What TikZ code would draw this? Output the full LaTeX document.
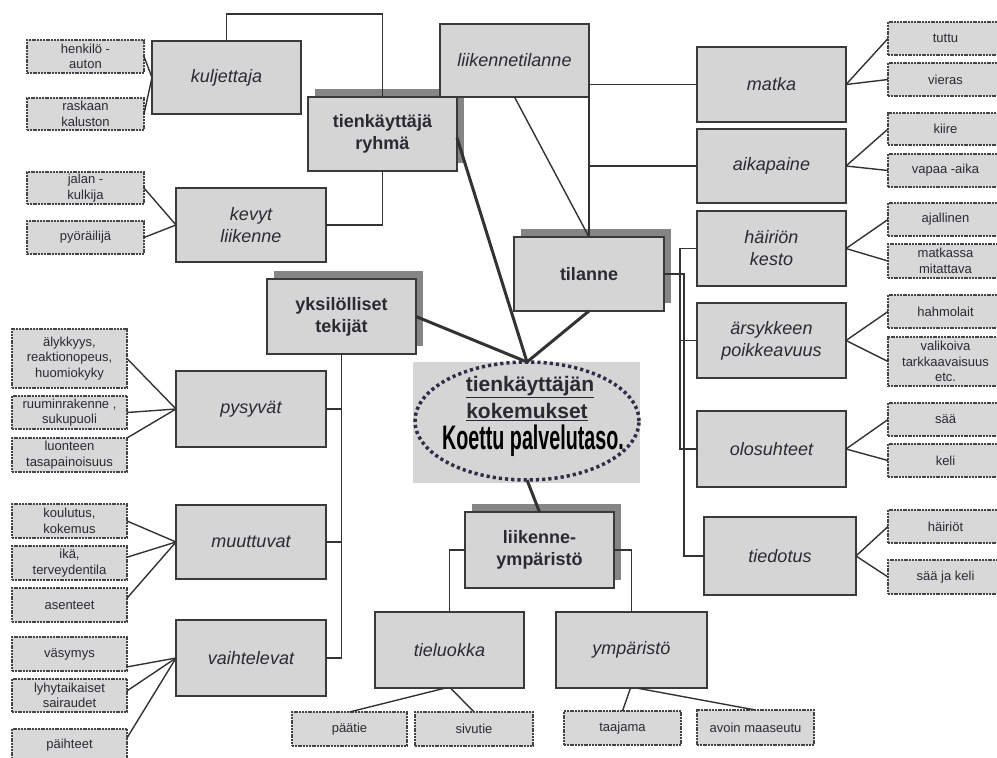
\documentclass[tikz,border=0pt]{standalone}
\usepackage{fontspec}
\setmainfont{Liberation Sans}
\usepackage{graphicx}
\usetikzlibrary{shapes.geometric,calc}
\definecolor{fillc}{HTML}{D5D5D5}
\definecolor{leaffill}{HTML}{D8D8D8}
\definecolor{bordc}{HTML}{3A3A3A}
\definecolor{leafb}{HTML}{454545}
\definecolor{shadc}{HTML}{858585}
\definecolor{textc}{HTML}{2A2A33}
\definecolor{linec}{HTML}{333333}
\definecolor{ellc}{HTML}{2E2E48}
\tikzset{
  mainbox/.style={draw=bordc, line width=1.6pt, fill=fillc, outer sep=0pt, inner sep=1pt, align=center, text=textc, font=\fontsize{18}{22}\selectfont\itshape},
  boldbox/.style={mainbox, font=\fontsize{18}{22}\selectfont\bfseries},
  leafbox/.style={draw=leafb, line width=1.4pt, dash pattern=on 2pt off 0.8pt, fill=leaffill, outer sep=0pt, inner sep=0pt, align=center, text=textc, font=\fontsize{13}{15.5}\selectfont},
  conn/.style={draw=linec, line width=1.4pt},
  thickconn/.style={draw=linec, line width=3pt},
}
\newcommand\MkBox[7]{\node[#1, minimum width={(#5)-(#3)}, minimum height={(#6)-(#4)}] (#2) at ({((#3)+(#5))/2},{((#4)+(#6))/2}) {#7};}
\newcommand\Shad[4]{\fill[shadc] ({#1+7},{#2-8}) rectangle ({#3+7},{#4-8});}
\begin{document}
\begin{tikzpicture}[x=1pt,y=-1pt]
\useasboundingbox (0,0) rectangle (997,758);
\fill[white] (0,0) rectangle (997,758);
\clip (0,0) rectangle (997,758);
\coordinate (ktop) at (0,14);
% shadows
\Shad{308}{97}{457}{171}
\Shad{514}{237}{664}{311}
\Shad{267}{279}{416}{354}
\Shad{465}{512}{614}{588}
% ellipse background
\fill[fillc] (413,362) rectangle (640,483);
% main boxes (placed first for names; redrawn order handled by layers below)
\begin{scope}[on background layer/.style={}]
\end{scope}
% ---- nodes
\MkBox{boldbox}{tienk}{308}{97}{457}{171}{tienkäyttäjä\\ryhmä}
\MkBox{mainbox}{lt}{440}{24}{589}{97}{liikennetilanne}
\MkBox{mainbox}{kulj}{152}{41}{301}{114}{kuljettaja}
\MkBox{mainbox}{kev}{176}{188}{326}{262}{kevyt\\liikenne}
\MkBox{mainbox}{matka}{697}{47}{846}{122}{matka}
\MkBox{mainbox}{aika}{697}{129}{846}{203}{aikapaine}
\MkBox{mainbox}{hair}{697}{211}{846}{286}{häiriön\\kesto}
\MkBox{mainbox}{ars}{697}{303}{846}{378}{ärsykkeen\\poikkeavuus}
\MkBox{mainbox}{olo}{697}{411}{846}{487}{olosuhteet}
\MkBox{mainbox}{tied}{704}{517}{856}{595}{tiedotus}
\MkBox{boldbox}{til}{514}{237}{664}{311}{tilanne}
\MkBox{boldbox}{yks}{267}{279}{416}{354}{yksilölliset\\tekijät}
\MkBox{mainbox}{pys}{176}{371}{326}{447}{pysyvät}
\MkBox{mainbox}{muut}{176}{505}{326}{579}{muuttuvat}
\MkBox{mainbox}{vaih}{176}{620}{326}{696}{vaihtelevat}
\MkBox{boldbox}{ly}{465}{512}{614}{588}{liikenne-\\ympäristö}
\MkBox{mainbox}{tiel}{375}{612}{524}{688}{tieluokka}
\MkBox{mainbox}{ymp}{556}{612}{707}{688}{ympäristö}
% leaf boxes
\MkBox{leafbox}{henk}{27}{40}{144}{73}{henkilö -\\auton}
\MkBox{leafbox}{rask}{27}{98}{144}{130}{raskaan\\kaluston}
\MkBox{leafbox}{jal}{27}{172}{144}{204}{jalan -\\kulkija}
\MkBox{leafbox}{pyo}{27}{221}{144}{254}{pyöräilijä}
\MkBox{leafbox}{aly}{12}{329}{127}{388}{älykkyys,\\reaktionopeus,\\huomiokyky}
\MkBox{leafbox}{ruu}{12}{396}{127}{429}{ruuminrakenne ,\\sukupuoli}
\MkBox{leafbox}{luo}{12}{438}{127}{472}{luonteen\\tasapainoisuus}
\MkBox{leafbox}{kou}{12}{504}{127}{538}{koulutus,\\kokemus}
\MkBox{leafbox}{ika}{12}{546}{127}{580}{ikä,\\terveydentila}
\MkBox{leafbox}{ase}{12}{588}{127}{622}{asenteet}
\MkBox{leafbox}{vas}{12}{637}{127}{671}{väsymys}
\MkBox{leafbox}{lyh}{12}{679}{127}{712}{lyhytaikaiset\\sairaudet}
\MkBox{leafbox}{pai}{12}{729}{127}{762}{päihteet}
\MkBox{leafbox}{paa}{292}{712}{407}{746}{päätie}
\MkBox{leafbox}{siv}{415}{712}{533}{746}{sivutie}
\MkBox{leafbox}{taa}{564}{711}{681}{745}{taajama}
\MkBox{leafbox}{avo}{697}{710}{814}{745}{avoin maaseutu}
\MkBox{leafbox}{tut}{888}{22}{1003}{55}{tuttu}
\MkBox{leafbox}{vie}{888}{63}{1003}{96}{vieras}
\MkBox{leafbox}{kii}{888}{113}{1003}{145}{kiire}
\MkBox{leafbox}{vap}{888}{154}{1003}{187}{vapaa -aika}
\MkBox{leafbox}{aja}{888}{203}{1003}{236}{ajallinen}
\MkBox{leafbox}{mat}{888}{244}{1003}{278}{matkassa\\mitattava}
\MkBox{leafbox}{hah}{888}{295}{1003}{328}{hahmolait}
\MkBox{leafbox}{val}{888}{337}{1003}{386}{valikoiva\\tarkkaavaisuus\\etc.}
\MkBox{leafbox}{saa}{888}{403}{1003}{436}{sää}
\MkBox{leafbox}{kel}{888}{444}{1003}{477}{keli}
\MkBox{leafbox}{hai}{888}{510}{1003}{543}{häiriöt}
\MkBox{leafbox}{sjk}{888}{560}{1003}{594}{sää ja keli}
% central ellipse
\node[ellipse, draw=ellc, line width=3.5pt, dash pattern=on 3.2pt off 3pt, minimum width=224, minimum height=118, inner sep=0pt, outer sep=0pt] (ell) at (527,421) {};
\node[text=textc, font=\fontsize{21}{21}\selectfont\bfseries, inner sep=0pt] (t1) at (530,387) {\underline{tienkäyttäjän}};
\node[text=textc, font=\fontsize{21}{21}\selectfont\bfseries, inner sep=0pt] (t2) at (527,412) {\underline{kokemukset}};
\node[text=black, inner sep=0pt] (t3) at (533,441) {\scalebox{0.58}[1]{\fontsize{34}{34}\selectfont\bfseries Koettu palvelutaso.}};
% ---- connectors (drawn on top of shadows; box borders overlap their ends)
\draw[conn] (kulj.north) -- (kulj.north |- ktop) -| (tienk.north);
\draw[conn] (kev.east) -| (tienk.south);
\draw[conn] (henk.east) -- (kulj.west);
\draw[conn] (rask.east) -- (kulj.west);
\draw[conn] (jal.east) -- (kev.west);
\draw[conn] (pyo.east) -- (kev.west);
\draw[conn] (til.north) -- (matka.west -| til.north) -- (matka.west);
\draw[conn] (aika.west -| til.north) -- (aika.west);
\draw[conn] (lt.south) -- (til.north);
\draw[thickconn] ($(tienk.north east)!0.55!(tienk.south east)$) -- (ell.north);
\draw[thickconn] (yks.east) -- (ell.north);
\draw[thickconn] (til.south) -- (ell.north);
\draw[thickconn] (ell.south) -- (ly.north);
\draw[conn] (til.east) -- ++(20,0) |- (tied.west);
\draw[conn] (hair.west) -- ++(-17,0) |- (olo.west);
\draw[conn] (ars.west) -- ++(-17,0);
\draw[conn] (yks.south) |- (vaih.east);
\draw[conn] (pys.east) -- (pys.east -| yks.south);
\draw[conn] (muut.east) -- (muut.east -| yks.south);
\draw[conn] (aly.east) -- (pys.west);
\draw[conn] (ruu.east) -- (pys.west);
\draw[conn] (luo.north east) -- (pys.west);
\draw[conn] (kou.east) -- (muut.west);
\draw[conn] ($(ika.north east)!.33!(ika.south east)$) -- (muut.west);
\draw[conn] ($(ase.north east)!.3!(ase.south east)$) -- (muut.west);
\draw[conn] ($(vas.north east)!.88!(vas.south east)$) -- (vaih.west);
\draw[conn] ($(lyh.north east)!.36!(lyh.south east)$) -- (vaih.west);
\draw[conn] ($(pai.north east)!.27!(pai.south east)$) -- (vaih.west);
\draw[conn] (matka.east) -- (tut.west);
\draw[conn] (matka.east) -- (vie.west);
\draw[conn] (aika.east) -- (kii.west);
\draw[conn] (aika.east) -- (vap.west);
\draw[conn] (hair.east) -- (aja.west);
\draw[conn] (hair.east) -- (mat.west);
\draw[conn] (ars.east) -- (hah.west);
\draw[conn] (ars.east) -- (val.west);
\draw[conn] (olo.east) -- (saa.west);
\draw[conn] (olo.east) -- (kel.west);
\draw[conn] (tied.east) -- (hai.west);
\draw[conn] (tied.east) -- (sjk.west);
\draw[conn] (ly.west) -| (tiel.north);
\draw[conn] (ly.east) -| (ymp.north);
\draw[conn] ($(tiel.south)+(-4,0)$) -- (paa.north);
\draw[conn] ($(tiel.south)+(1,0)$) -- (siv.north);
\draw[conn] ($(ymp.south)+(-1,0)$) -- (taa.north);
\draw[conn] ($(ymp.south)+(5,0)$) -- (avo.north);
\end{tikzpicture}
\end{document}
